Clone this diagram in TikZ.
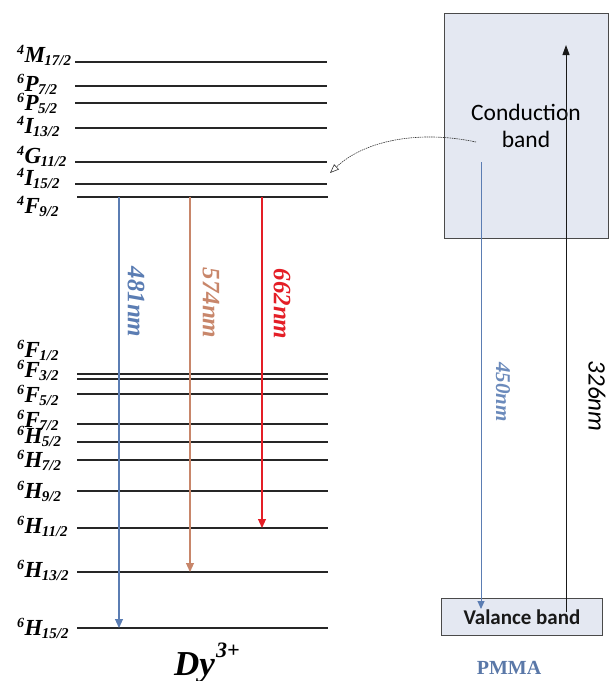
\documentclass[tikz,border=0pt]{standalone}
\usepackage{fontspec}
\setmainfont{Liberation Serif}
\newfontfamily\calfont{Carlito}
\usetikzlibrary{arrows.meta}

\definecolor{bluearr}{HTML}{5B7DB3}
\definecolor{brownarr}{HTML}{C8866A}
\definecolor{redarr}{HTML}{E41E26}
\definecolor{bandfill}{HTML}{E4E8F2}
\definecolor{bandedge}{HTML}{4A4A4A}
\definecolor{pmmablue}{HTML}{5A78A8}

% spectroscopic term: superscript multiplicity, letter, subscript J
\newcommand\lterm[3]{\raisebox{7.5pt}{\fontsize{14}{14}\selectfont#1}\kern0.3pt#2\kern-0.5pt\raisebox{-3.5pt}{\fontsize{15}{15}\selectfont#3}}

\tikzset{
  level/.style={line width=1.3pt, draw=black!85},
  lvl/.style={inner sep=0pt, anchor=base west, font=\fontsize{23}{23}\selectfont\bfseries\itshape},
  emis/.style={line width=1.1pt, -{Triangle[length=9pt,width=8pt]}},
  wl/.style={inner sep=0pt, rotate=-90, font=\fontsize{25}{25}\selectfont\bfseries\itshape},
  band/.style={draw=bandedge, line width=1.1pt, fill=bandfill},
}

\begin{document}
\begin{tikzpicture}[x=1pt,y=-1pt]
\useasboundingbox (0,0) rectangle (610,681);
\clip (0,0) rectangle (610,681);

% energy levels of Dy3+
\foreach \yy in {62,86,103,128,162,184} \draw[level] (75,\yy) -- (327,\yy);
\foreach \yy in {197,374,379,394,424,442,460,491,528,572,628} \draw[level] (77,\yy) -- (328,\yy);

% term labels
\node[lvl] (tM17) at (17,62)  {\lterm{4}{M}{17/2}};
\node[lvl] (tP7)  at (17,91)  {\lterm{6}{P}{7/2}};
\node[lvl] (tP5)  at (17,110) {\lterm{6}{P}{5/2}};
\node[lvl] (tI13) at (17,133) {\lterm{4}{I}{13/2}};
\node[lvl] (tG11) at (17,163) {\lterm{4}{G}{11/2}};
\node[lvl] (tI15) at (17,185) {\lterm{4}{I}{15/2}};
\node[lvl] (tF9)  at (17,213) {\lterm{4}{F}{9/2}};
\node[lvl] (tF1)  at (17,357) {\lterm{6}{F}{1/2}};
\node[lvl] (tF3)  at (17,377) {\lterm{6}{F}{3/2}};
\node[lvl] (tF5)  at (17,402) {\lterm{6}{F}{5/2}};
\node[lvl] (tF7)  at (17,427) {\lterm{6}{F}{7/2}};
\node[lvl] (tH5)  at (17,443) {\lterm{6}{H}{5/2}};
\node[lvl] (tH7)  at (17,467) {\lterm{6}{H}{7/2}};
\node[lvl] (tH9)  at (17,498) {\lterm{6}{H}{9/2}};
\node[lvl] (tH11) at (17,533) {\lterm{6}{H}{11/2}};
\node[lvl] (tH13) at (17,577) {\lterm{6}{H}{13/2}};
\node[lvl] (tH15) at (17,635) {\lterm{6}{H}{15/2}};

% emission transitions
\coordinate (bTop) at (119,197); \coordinate (bBot) at (119,628);
\coordinate (oTop) at (190,197); \coordinate (oBot) at (190,572);
\coordinate (rTop) at (262,197); \coordinate (rBot) at (262,528);
\draw[emis, bluearr]  (bTop) -- (bBot);
\draw[emis, brownarr] (oTop) -- (oBot);
\draw[emis, redarr]   (rTop) -- (rBot);
\node[wl, text=bluearr]  (w481) at (136,302) {481nm};
\node[wl, text=brownarr] (w574) at (211,303) {574nm};
\node[wl, text=redarr]   (w662) at (282,304) {662nm};

\node[inner sep=0pt, anchor=base west, font=\fontsize{35}{35}\selectfont\bfseries\itshape] (dy) at (174,675)
  {Dy\kern1pt\raisebox{18pt}{\fontsize{22}{22}\selectfont 3+}};

% PMMA bands
\node[band, minimum width=164pt, minimum height=225pt, anchor=north west, inner sep=0pt] (cb) at (444,13) {};
\node[font=\calfont\fontsize{23.5}{27}\selectfont, align=center, text=black] (cbt) at (526,126) {Conduction\\band};
\node[band, minimum width=161pt, minimum height=37pt, anchor=north west, inner sep=0pt,
      font=\calfont\bfseries\fontsize{21}{21}\selectfont, text=black!90] (vb) at (441,598) {Valance band};

% excitation and PMMA emission
\coordinate (uvBot) at (566,612); \coordinate (uvTop) at (566,45);
\draw[line width=1pt, black!90, -{Triangle[length=10pt,width=7pt]}] (uvBot) -- (uvTop);
\node[inner sep=0pt, rotate=-90, font=\calfont\itshape\fontsize{25}{25}\selectfont] (w326) at (597,396) {326nm};

\coordinate (pbTop) at (481,162); \coordinate (pbBot) at (481,609);
\draw[line width=1pt, bluearr, -{Triangle[length=8pt,width=7pt]}] (pbTop) -- (pbBot);
\node[wl, text=bluearr!90, font=\fontsize{21}{21}\selectfont\bfseries\itshape] (w450) at (503,392) {450nm};

% energy transfer to Dy3+
\coordinate (etStart) at (476,142); \coordinate (etEnd) at (330,173);
\draw[black!80, line width=0.6pt, dash pattern=on 1.5pt off 0.8pt, -{Triangle[open,length=9pt,width=7pt]}]
  (etStart) .. controls (420,130) and (365,140) .. (etEnd);

\node[font=\fontsize{20}{20}\selectfont\bfseries, text=pmmablue, anchor=base, inner sep=0pt] (pmma) at (509,674) {PMMA};
\end{tikzpicture}
\end{document}
